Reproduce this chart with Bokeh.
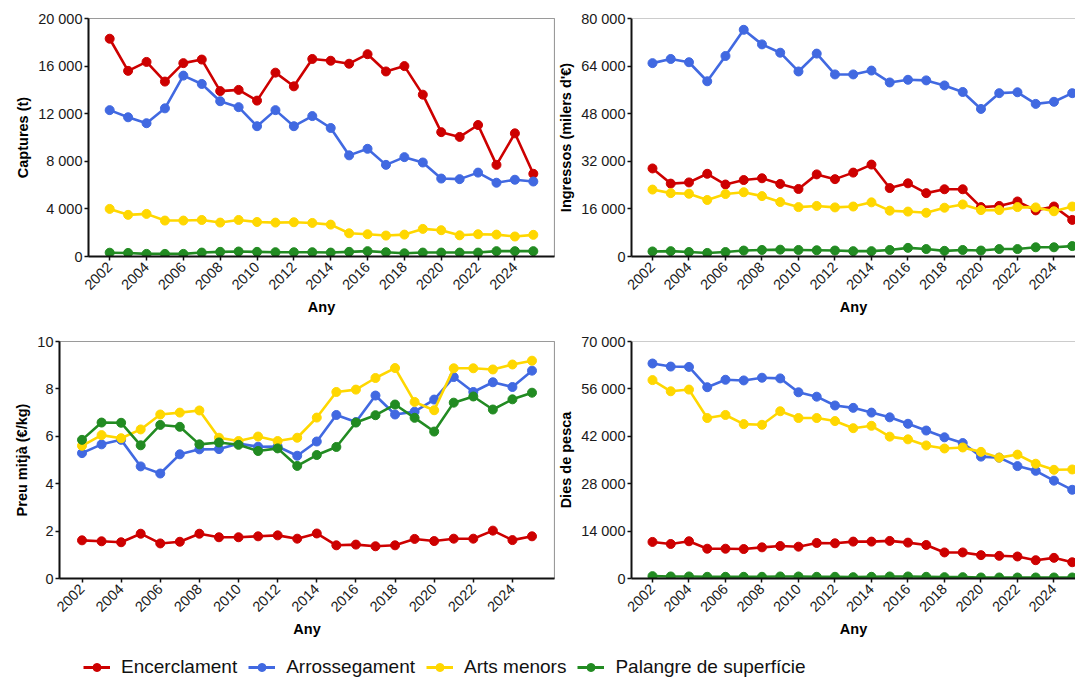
import math
from bokeh.plotting import figure
from bokeh.layouts import column, row
from bokeh.models import (Range1d, FixedTicker, CustomJSTickFormatter, Legend,
                          LegendItem, Span)
from bokeh.embed import file_html
from bokeh.resources import INLINE

# ---------------- data ----------------
years = [2002, 2003, 2004, 2005, 2006, 2007, 2008, 2009, 2010, 2011, 2012, 2013,
         2014, 2015, 2016, 2017, 2018, 2019, 2020, 2021, 2022, 2023, 2024, 2025]

series_names = ["Encerclament", "Arrossegament", "Arts menors", "Palangre de superfície"]
series_colors = ["#CD0000", "#4169E1", "#FFD700", "#228B22"]

# Captures (t)
captures_encerclament = [18300, 15600, 16350, 14700, 16250, 16550, 13900, 14000, 13100, 15450, 14300, 16600,
                         16450, 16200, 17000, 15550, 16000, 13600, 10450, 10050, 11050, 7700, 10350, 6950]
captures_arrossegament = [12300, 11700, 11200, 12450, 15200, 14500, 13050, 12550, 10950, 12300, 10950, 11800,
                          10800, 8500, 9050, 7700, 8350, 7900, 6550, 6500, 7050, 6200, 6450, 6300]
captures_arts_menors = [4000, 3500, 3580, 3020, 3020, 3070, 2850, 3070, 2900, 2850, 2880, 2820,
                        2680, 1950, 1870, 1760, 1840, 2320, 2210, 1780, 1870, 1840, 1680, 1820]
captures_palangre = [320, 300, 220, 220, 220, 330, 390, 420, 390, 360, 360, 360,
                     330, 390, 450, 360, 270, 330, 330, 330, 330, 450, 450, 450]

# Ingressos (milers d'€)
ingressos_encerclament = [29600, 24500, 24900, 27800, 24200, 25700, 26300, 24400, 22700, 27600, 26000, 28200,
                          30900, 23000, 24600, 21300, 22600, 22600, 16600, 17000, 18500, 15500, 16800, 12300]
ingressos_arrossegament = [65000, 66400, 65300, 58900, 67400, 76200, 71300, 68500, 62200, 68200, 61200, 61200,
                           62500, 58500, 59400, 59200, 57500, 55300, 49600, 54900, 55200, 51300, 52000, 54900]
ingressos_arts_menors = [22500, 21300, 21100, 19000, 21000, 21600, 20300, 18300, 16600, 17000, 16500, 16800,
                         18200, 15400, 15100, 14700, 16400, 17500, 15600, 15600, 16600, 16500, 15200, 16800]
ingressos_palangre = [1700, 1800, 1500, 1200, 1500, 2000, 2200, 2300, 2200, 2100, 2000, 1800,
                      1800, 2200, 2900, 2500, 1900, 2200, 2000, 2500, 2500, 3100, 3100, 3500]

# Preu mitjà (€/kg)
preu_encerclament = [1.61, 1.57, 1.53, 1.89, 1.48, 1.55, 1.89, 1.74, 1.74, 1.78, 1.82, 1.68,
                     1.90, 1.40, 1.43, 1.36, 1.40, 1.67, 1.58, 1.68, 1.68, 2.02, 1.62, 1.78]
preu_arrossegament = [5.29, 5.66, 5.85, 4.73, 4.43, 5.24, 5.45, 5.46, 5.69, 5.56, 5.57, 5.18,
                      5.78, 6.90, 6.60, 7.72, 6.92, 7.04, 7.55, 8.50, 7.87, 8.28, 8.08, 8.77]
preu_arts_menors = [5.60, 6.05, 5.92, 6.29, 6.92, 7.00, 7.09, 5.94, 5.80, 5.99, 5.80, 5.94,
                    6.79, 7.87, 7.97, 8.46, 8.88, 7.45, 7.10, 8.87, 8.87, 8.82, 9.03, 9.19]
preu_palangre = [5.85, 6.58, 6.57, 5.62, 6.48, 6.40, 5.66, 5.74, 5.64, 5.38, 5.49, 4.75,
                 5.21, 5.55, 6.58, 6.89, 7.34, 6.78, 6.20, 7.42, 7.68, 7.13, 7.56, 7.84]

# Dies de pesca
dies_encerclament = [10800, 10200, 11000, 8800, 8800, 8700, 9200, 9600, 9400, 10500, 10400, 10900,
                     10900, 11100, 10600, 9900, 7700, 7700, 6900, 6700, 6500, 5400, 6100, 4800]
dies_arrossegament = [63500, 62600, 62500, 56500, 58700, 58500, 59300, 59100, 55000, 53700, 51100, 50400,
                      49000, 47600, 45700, 43700, 41700, 40000, 36000, 35700, 33200, 31800, 28900, 26200]
dies_arts_menors = [58600, 55300, 55800, 47400, 48300, 45600, 45400, 49400, 47400, 47400, 46500, 44400,
                    45100, 41900, 41100, 39300, 38400, 38700, 37400, 35700, 36600, 33900, 32100, 32200]
dies_palangre = [700, 600, 600, 500, 500, 500, 500, 600, 600, 500, 500, 400,
                 500, 600, 600, 500, 400, 400, 300, 300, 300, 300, 300, 300]

x_ticks = [2002, 2004, 2006, 2008, 2010, 2012, 2014, 2016, 2018, 2020, 2022, 2024]
captures_ticks = [0, 4000, 8000, 12000, 16000, 20000]
ingressos_ticks = [0, 16000, 32000, 48000, 64000, 80000]
preu_ticks = [0, 2, 4, 6, 8, 10]
dies_ticks = [0, 14000, 28000, 42000, 56000, 70000]

x_label = "Any"

# ---------------- styling ----------------
FONT = "Liberation Sans"
TEXT = "#1a1a1a"
LINE_W = 2.6
MARK = 9

thousands = CustomJSTickFormatter(
    code=r"return tick.toFixed(0).replace(/\B(?=(\d{3})+(?!\d))/g, ' ');")


def make_fig(width, height, borders, x_end, y_ticks, y_label, values, right_side):
    left, right, top, bottom = borders
    p = figure(width=width, height=height,
               x_range=Range1d(2000.85, x_end),
               y_range=Range1d(0, y_ticks[-1]),
               output_backend="svg", toolbar_location=None,
               min_border_left=left, min_border_right=right,
               min_border_top=top, min_border_bottom=bottom)
    p.xgrid.visible = False
    p.ygrid.visible = False
    p.background_fill_color = "white"
    p.border_fill_color = "white"
    if right_side:
        p.outline_line_color = None
        p.add_layout(Span(location=y_ticks[-1], dimension="width",
                          line_color="#9a9a9a", line_width=1.2))
    else:
        p.outline_line_color = "#9a9a9a"
        p.outline_line_width = 1.2

    for ax in (p.xaxis[0], p.yaxis[0]):
        ax.axis_line_color = "#111111"
        ax.axis_line_width = 2
        ax.major_tick_line_color = "#111111"
        ax.major_tick_line_width = 1.5
        ax.major_tick_out = 4
        ax.major_tick_in = 0
        ax.minor_tick_line_color = None
        ax.major_label_text_font = FONT
        ax.major_label_text_font_size = "14.5px"
        ax.major_label_text_color = TEXT
        ax.major_label_standoff = 2
        ax.axis_label_text_font = FONT
        ax.axis_label_text_font_size = "14.5px"
        ax.axis_label_text_font_style = "bold"
        ax.axis_label_text_color = "#000000"

    p.xaxis.ticker = FixedTicker(ticks=x_ticks)
    p.xaxis.major_label_orientation = math.pi / 4
    p.xaxis.major_label_standoff = 4
    p.xaxis.axis_label = x_label
    p.xaxis.axis_label_standoff = 2

    p.yaxis.ticker = FixedTicker(ticks=y_ticks)
    p.yaxis.formatter = thousands
    p.yaxis.axis_label = y_label
    p.yaxis.axis_label_standoff = 4

    for vals, col in zip(values, series_colors):
        p.line(years, vals, line_color=col, line_width=LINE_W)
        p.scatter(years, vals, size=MARK, fill_color=col, line_color=col)
    return p


LEFT_W, RIGHT_W = 555, 520
TOP_H, BOT_H, LEG_H = 326, 314, 42

p1 = make_fig(LEFT_W, TOP_H, (88, 1, 18, 70), 2026.15, captures_ticks, "Captures (t)",
              [captures_encerclament, captures_arrossegament, captures_arts_menors, captures_palangre], False)
p2 = make_fig(RIGHT_W, TOP_H, (72, 0, 18, 70), 2025.18, ingressos_ticks, "Ingressos (milers d'€)",
              [ingressos_encerclament, ingressos_arrossegament, ingressos_arts_menors, ingressos_palangre], True)
p3 = make_fig(LEFT_W, BOT_H, (59, 1, 15, 62), 2026.15, preu_ticks, "Preu mitjà (€/kg)",
              [preu_encerclament, preu_arrossegament, preu_arts_menors, preu_palangre], False)
p4 = make_fig(RIGHT_W, BOT_H, (72, 0, 15, 62), 2025.18, dies_ticks, "Dies de pesca",
              [dies_encerclament, dies_arrossegament, dies_arts_menors, dies_palangre], True)

# ---------------- legend strip ----------------
# legend proxies reuse the real series; the strip's ranges keep them out of view
leg = figure(width=LEFT_W + RIGHT_W, height=LEG_H, output_backend="svg", toolbar_location=None,
             x_range=Range1d(0, 1), y_range=Range1d(0, 1), min_border=0)
leg.outline_line_color = None
leg.axis.visible = False
leg.xgrid.visible = False
leg.ygrid.visible = False
items = []
proxy_values = [captures_encerclament, captures_arrossegament, captures_arts_menors, captures_palangre]
for name, col, vals in zip(series_names, series_colors, proxy_values):
    rl = leg.line(years, vals, line_color=col, line_width=3)
    rs = leg.scatter(years, vals, size=10, fill_color=col, line_color=col)
    items.append(LegendItem(label=name, renderers=[rl, rs]))
legend = Legend(items=items, orientation="horizontal", location=(83, 4),
                glyph_width=27, glyph_height=20, label_height=20,
                label_standoff=11, spacing=11, padding=0, margin=0,
                border_line_color=None, background_fill_alpha=0,
                label_text_font=FONT, label_text_font_size="19px",
                label_text_color="#111111")
leg.add_layout(legend, "center")

layout = column(row(p1, p2), row(p3, p4), leg)

open("out.html", "w").write(file_html(layout, INLINE))
